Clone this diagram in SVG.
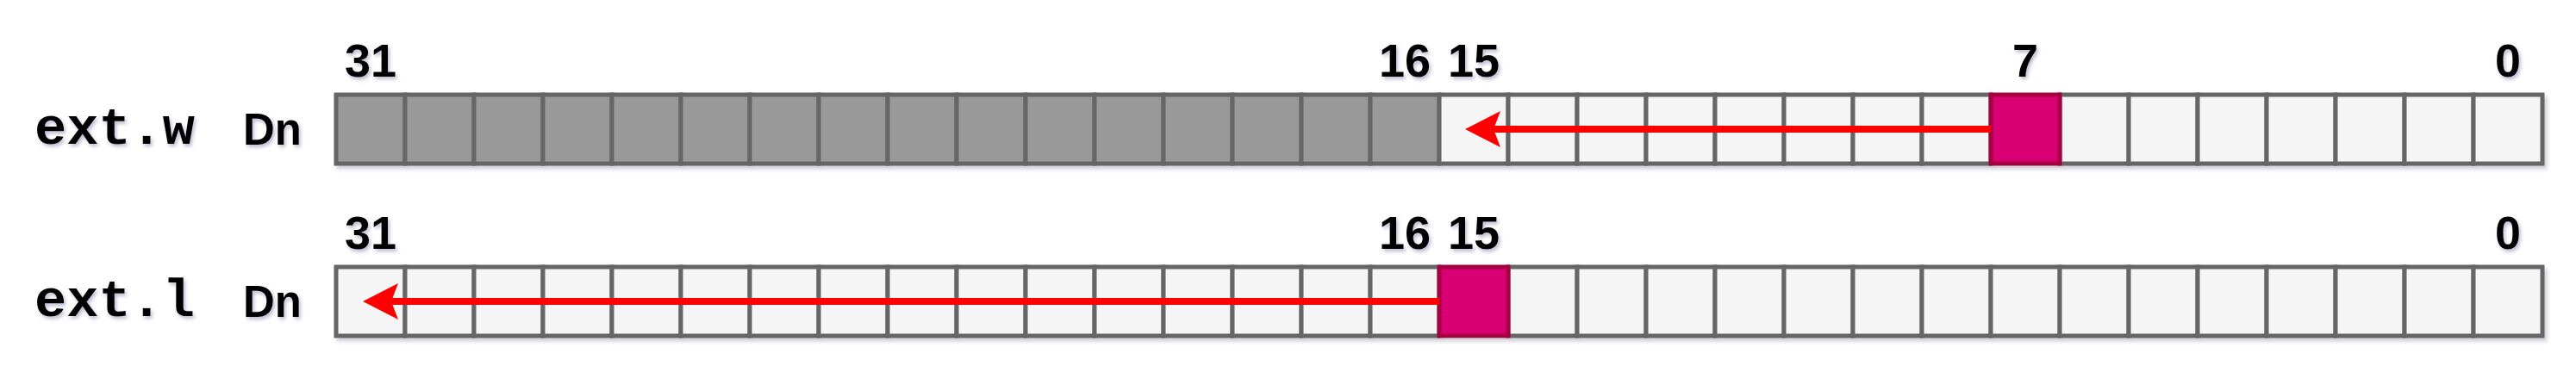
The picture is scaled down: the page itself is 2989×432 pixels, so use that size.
<svg xmlns="http://www.w3.org/2000/svg" width="2989" height="432" viewBox="0 0 2989 432">
<defs>
<style>
.c{stroke:#666666;stroke-width:5}
.g{fill:#999999}
.l{fill:#f5f5f5}
.m{fill:#d80073;stroke:#a50040;stroke-width:5}
.num{font-family:"Liberation Sans",Arial,sans-serif;font-weight:bold;font-size:54px;fill:#000;text-anchor:middle}
.op{font-family:"Liberation Mono","Courier New",monospace;font-weight:bold;font-size:62px;fill:#000}
.dn{font-family:"Liberation Sans",Arial,sans-serif;font-weight:bold;font-size:51px;fill:#000}
.arr{stroke:#ff0000;stroke-width:8;fill:none}
</style>
<filter id="sh" x="-5%" y="-20%" width="110%" height="150%">
<feDropShadow dx="3" dy="4" stdDeviation="2" flood-color="#7a7a9a" flood-opacity="0.35"/>
</filter>
<filter id="tsh" x="-20%" y="-20%" width="140%" height="150%">
<feDropShadow dx="2" dy="3" stdDeviation="2" flood-color="#6a6a9a" flood-opacity="0.45"/>
</filter>
<marker id="ah" markerUnits="userSpaceOnUse" markerWidth="42" markerHeight="42" refX="8" refY="21" orient="auto" viewBox="0 0 42 42">
<path d="M0,0 L41,21 L0,42 L8,21 Z" fill="#ff0000"/>
</marker>
</defs>
<rect width="2989" height="432" fill="#ffffff"/>

<g id="labels" filter="url(#tsh)">
<text class="op" x="40" y="167">ext.w</text>
<text class="dn" x="282" y="168">Dn</text>
<text class="op" x="40" y="367">ext.l</text>
<text class="dn" x="282" y="368">Dn</text>
<text class="num" x="430" y="89">31</text>
<text class="num" x="1630" y="89">16</text>
<text class="num" x="1710" y="89">15</text>
<text class="num" x="2350" y="89">7</text>
<text class="num" x="2910" y="89">0</text>
<text class="num" x="430" y="289">31</text>
<text class="num" x="1630" y="289">16</text>
<text class="num" x="1710" y="289">15</text>
<text class="num" x="2910" y="289">0</text>
</g>

<g id="reg-extw" filter="url(#sh)">
<g class="c g">
<rect x="390" y="110" width="80" height="80"/><rect x="470" y="110" width="80" height="80"/><rect x="550" y="110" width="80" height="80"/><rect x="630" y="110" width="80" height="80"/>
<rect x="710" y="110" width="80" height="80"/><rect x="790" y="110" width="80" height="80"/><rect x="870" y="110" width="80" height="80"/><rect x="950" y="110" width="80" height="80"/>
<rect x="1030" y="110" width="80" height="80"/><rect x="1110" y="110" width="80" height="80"/><rect x="1190" y="110" width="80" height="80"/><rect x="1270" y="110" width="80" height="80"/>
<rect x="1350" y="110" width="80" height="80"/><rect x="1430" y="110" width="80" height="80"/><rect x="1510" y="110" width="80" height="80"/><rect x="1590" y="110" width="80" height="80"/>
</g>
<g class="c l">
<rect x="1670" y="110" width="80" height="80"/><rect x="1750" y="110" width="80" height="80"/><rect x="1830" y="110" width="80" height="80"/><rect x="1910" y="110" width="80" height="80"/>
<rect x="1990" y="110" width="80" height="80"/><rect x="2070" y="110" width="80" height="80"/><rect x="2150" y="110" width="80" height="80"/><rect x="2230" y="110" width="80" height="80"/>
<rect x="2390" y="110" width="80" height="80"/><rect x="2470" y="110" width="80" height="80"/><rect x="2550" y="110" width="80" height="80"/><rect x="2630" y="110" width="80" height="80"/>
<rect x="2710" y="110" width="80" height="80"/><rect x="2790" y="110" width="80" height="80"/><rect x="2870" y="110" width="80" height="80"/>
</g>
<rect id="bit7-w" class="m" x="2310" y="110" width="80" height="80"/>
</g>

<g id="reg-extl" filter="url(#sh)">
<g class="c l">
<rect x="390" y="310" width="80" height="80"/><rect x="470" y="310" width="80" height="80"/><rect x="550" y="310" width="80" height="80"/><rect x="630" y="310" width="80" height="80"/>
<rect x="710" y="310" width="80" height="80"/><rect x="790" y="310" width="80" height="80"/><rect x="870" y="310" width="80" height="80"/><rect x="950" y="310" width="80" height="80"/>
<rect x="1030" y="310" width="80" height="80"/><rect x="1110" y="310" width="80" height="80"/><rect x="1190" y="310" width="80" height="80"/><rect x="1270" y="310" width="80" height="80"/>
<rect x="1350" y="310" width="80" height="80"/><rect x="1430" y="310" width="80" height="80"/><rect x="1510" y="310" width="80" height="80"/><rect x="1590" y="310" width="80" height="80"/>
<rect x="1750" y="310" width="80" height="80"/><rect x="1830" y="310" width="80" height="80"/><rect x="1910" y="310" width="80" height="80"/>
<rect x="1990" y="310" width="80" height="80"/><rect x="2070" y="310" width="80" height="80"/><rect x="2150" y="310" width="80" height="80"/><rect x="2230" y="310" width="80" height="80"/>
<rect x="2310" y="310" width="80" height="80"/><rect x="2390" y="310" width="80" height="80"/><rect x="2470" y="310" width="80" height="80"/><rect x="2550" y="310" width="80" height="80"/><rect x="2630" y="310" width="80" height="80"/>
<rect x="2710" y="310" width="80" height="80"/><rect x="2790" y="310" width="80" height="80"/><rect x="2870" y="310" width="80" height="80"/>
</g>
<rect id="bit15-l" class="m" x="1670" y="310" width="80" height="80"/>
</g>

<g id="connectors">
<line class="arr" x1="2310" y1="150" x2="1733" y2="150" marker-end="url(#ah)"/>
<line class="arr" x1="1670" y1="350" x2="454" y2="350" marker-end="url(#ah)"/>
</g>
</svg>
